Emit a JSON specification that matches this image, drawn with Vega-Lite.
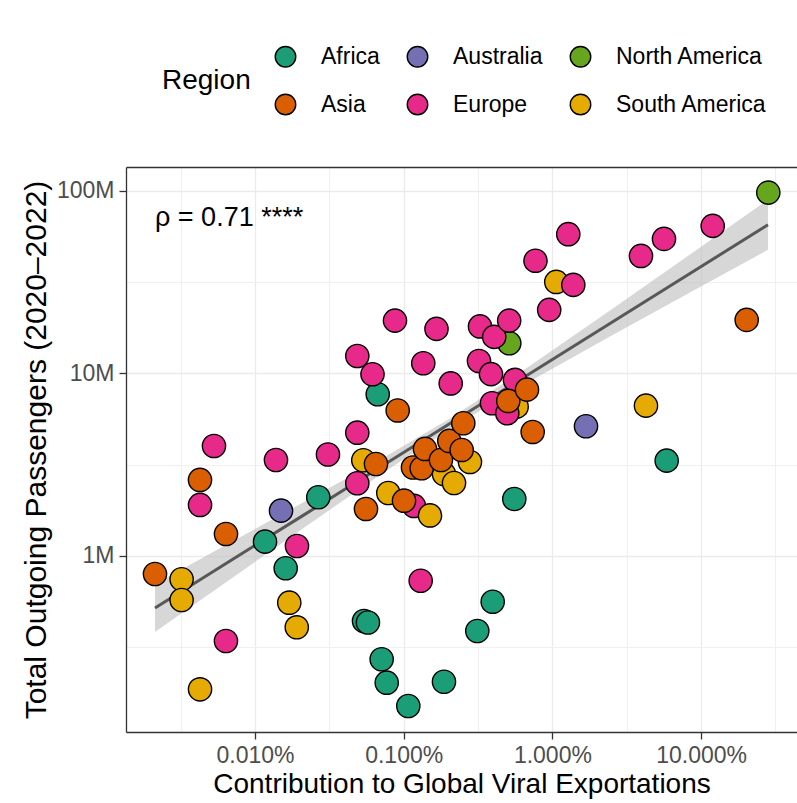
{
  "$schema": "https://vega.github.io/schema/vega-lite/v6.json",
  "width": 671,
  "height": 565,
  "autosize": {"type": "none"},
  "padding": {"left": 126, "top": 167, "right": 0, "bottom": 71},
  "background": "white",
  "config": {
    "view": {"stroke": null},
    "font": "Liberation Sans",
    "legend": {
      "orient": "none",
      "legendX": 36,
      "legendY": -122,
      "direction": "horizontal",
      "columns": 3,
      "gridAlign": "each",
      "padding": 0,
      "titleOrient": "left",
      "titleFontSize": 28,
      "titleFontWeight": "normal",
      "titleColor": "black",
      "titlePadding": 23,
      "titleAnchor": "middle",
      "titleBaseline": "middle",
      "labelFontSize": 23,
      "labelColor": "black",
      "labelOffset": 24,
      "symbolSize": 420,
      "symbolStrokeColor": "black",
      "symbolStrokeWidth": 1.4,
      "symbolType": "circle",
      "symbolOpacity": 1,
      "columnPadding": 24,
      "rowPadding": 21
    }
  },
  "datasets": {
    "countries": [
      {"region": "South America", "share": 3.21e-5, "passengers": 745400},
      {"region": "South America", "share": 3.21e-5, "passengers": 574100},
      {"region": "South America", "share": 4.27e-5, "passengers": 186200},
      {"region": "South America", "share": 1.70e-4, "passengers": 555000},
      {"region": "South America", "share": 1.91e-4, "passengers": 406900},
      {"region": "South America", "share": 5.35e-4, "passengers": 3343000},
      {"region": "South America", "share": 7.88e-4, "passengers": 2213000},
      {"region": "South America", "share": 1.866e-3, "passengers": 2812000},
      {"region": "South America", "share": 2.18e-3, "passengers": 2510000},
      {"region": "South America", "share": 2.79e-3, "passengers": 3272000},
      {"region": "South America", "share": 5.75e-3, "passengers": 6571000},
      {"region": "South America", "share": 1.062e-2, "passengers": 31660000},
      {"region": "South America", "share": 4.26e-2, "passengers": 6655000},
      {"region": "Africa", "share": 6.69e-4, "passengers": 7685000},
      {"region": "Africa", "share": 2.665e-4, "passengers": 2097000},
      {"region": "Africa", "share": 1.168e-4, "passengers": 1198000},
      {"region": "Africa", "share": 1.609e-4, "passengers": 856300},
      {"region": "Africa", "share": 5.41e-4, "passengers": 440600},
      {"region": "Africa", "share": 5.75e-4, "passengers": 432300},
      {"region": "Africa", "share": 7.11e-4, "passengers": 271900},
      {"region": "Africa", "share": 7.69e-4, "passengers": 202400},
      {"region": "Africa", "share": 1.074e-3, "passengers": 150800},
      {"region": "Africa", "share": 1.866e-3, "passengers": 204900},
      {"region": "Africa", "share": 3.126e-3, "passengers": 388500},
      {"region": "Africa", "share": 3.968e-3, "passengers": 561900},
      {"region": "Africa", "share": 5.543e-3, "passengers": 2052000},
      {"region": "Africa", "share": 5.87e-2, "passengers": 3326000},
      {"region": "Australia", "share": 1.496e-4, "passengers": 1771000},
      {"region": "Australia", "share": 1.683e-2, "passengers": 5133000},
      {"region": "North America", "share": 5.13e-3, "passengers": 14610000},
      {"region": "North America", "share": 0.2831, "passengers": 97630000},
      {"region": "Europe", "share": 5.30e-5, "passengers": 4003000},
      {"region": "Europe", "share": 4.27e-5, "passengers": 1903000},
      {"region": "Europe", "share": 6.38e-5, "passengers": 342400},
      {"region": "Europe", "share": 1.384e-4, "passengers": 3355000},
      {"region": "Europe", "share": 1.916e-4, "passengers": 1134000},
      {"region": "Europe", "share": 3.096e-4, "passengers": 3596000},
      {"region": "Europe", "share": 4.875e-4, "passengers": 12450000},
      {"region": "Europe", "share": 6.17e-4, "passengers": 9888000},
      {"region": "Europe", "share": 4.875e-4, "passengers": 4733000},
      {"region": "Europe", "share": 4.875e-4, "passengers": 2502000},
      {"region": "Europe", "share": 8.74e-4, "passengers": 19440000},
      {"region": "Europe", "share": 1.173e-3, "passengers": 1879000},
      {"region": "Europe", "share": 1.301e-3, "passengers": 732100},
      {"region": "Europe", "share": 1.354e-3, "passengers": 11360000},
      {"region": "Europe", "share": 1.662e-3, "passengers": 17510000},
      {"region": "Europe", "share": 2.071e-3, "passengers": 8806000},
      {"region": "Europe", "share": 3.209e-3, "passengers": 11690000},
      {"region": "Europe", "share": 3.26e-3, "passengers": 18060000},
      {"region": "Europe", "share": 3.865e-3, "passengers": 9899000},
      {"region": "Europe", "share": 4.061e-3, "passengers": 15830000},
      {"region": "Europe", "share": 5.122e-3, "passengers": 19440000},
      {"region": "Europe", "share": 5.603e-3, "passengers": 9203000},
      {"region": "Europe", "share": 3.925e-3, "passengers": 6860000},
      {"region": "Europe", "share": 4.973e-3, "passengers": 6046000},
      {"region": "Europe", "share": 7.697e-3, "passengers": 41370000},
      {"region": "Europe", "share": 9.517e-3, "passengers": 22250000},
      {"region": "Europe", "share": 1.279e-2, "passengers": 57790000},
      {"region": "Europe", "share": 1.382e-2, "passengers": 30500000},
      {"region": "Europe", "share": 3.943e-2, "passengers": 43940000},
      {"region": "Europe", "share": 5.63e-2, "passengers": 54450000},
      {"region": "Europe", "share": 0.1197, "passengers": 64150000},
      {"region": "South America", "share": 1.503e-3, "passengers": 1667000},
      {"region": "Asia", "share": 2.126e-5, "passengers": 796800},
      {"region": "Asia", "share": 4.267e-5, "passengers": 2608000},
      {"region": "Asia", "share": 6.383e-5, "passengers": 1320000},
      {"region": "Asia", "share": 9.114e-4, "passengers": 6263000},
      {"region": "Asia", "share": 5.578e-4, "passengers": 1809000},
      {"region": "Asia", "share": 6.512e-4, "passengers": 3190000},
      {"region": "Asia", "share": 1.005e-3, "passengers": 2008000},
      {"region": "Asia", "share": 1.155e-3, "passengers": 3052000},
      {"region": "Asia", "share": 1.321e-3, "passengers": 3021000},
      {"region": "Asia", "share": 1.391e-3, "passengers": 3855000},
      {"region": "Asia", "share": 1.781e-3, "passengers": 3355000},
      {"region": "Asia", "share": 2.026e-3, "passengers": 4264000},
      {"region": "Asia", "share": 2.455e-3, "passengers": 3806000},
      {"region": "Asia", "share": 2.517e-3, "passengers": 5331000},
      {"region": "Asia", "share": 5.051e-3, "passengers": 7062000},
      {"region": "Asia", "share": 6.749e-3, "passengers": 8142000},
      {"region": "Asia", "share": 7.369e-3, "passengers": 4776000},
      {"region": "Asia", "share": 0.2026, "passengers": 19610000}
    ],
    "fit": [
      {"share": 2.126e-5, "fit": 518900, "lo": 383600, "hi": 702500},
      {"share": 6.79e-5, "fit": 937800, "lo": 744400, "hi": 1181000},
      {"share": 2.007e-4, "fit": 1627000, "lo": 1379000, "hi": 1919000},
      {"share": 6.93e-4, "fit": 3057000, "lo": 2773000, "hi": 3369000},
      {"share": 2.048e-3, "fit": 5311000, "lo": 4985000, "hi": 5655000},
      {"share": 7.07e-3, "fit": 9975000, "lo": 9051000, "hi": 10990000},
      {"share": 0.0244, "fit": 18740000, "lo": 15890000, "hi": 22100000},
      {"share": 0.0842, "fit": 35210000, "lo": 27670000, "hi": 44790000},
      {"share": 0.2818, "fit": 65060000, "lo": 47470000, "hi": 89160000}
    ],
    "note": [
      {"label": "ρ = 0.71 ****", "share": 2.126e-5, "passengers": 64100000}
    ]
  },
  "layer": [
    {
      "data": {"name": "fit"},
      "mark": {"type": "area", "color": "#bdbdbd", "opacity": 0.6},
      "encoding": {
        "x": {
          "field": "share", "type": "quantitative",
          "scale": {"type": "log", "domain": [1.357e-5, 0.4416], "nice": false},
          "axis": {
            "orient": "bottom",
            "values": [3.162e-5, 3.162e-4, 3.162e-3, 3.162e-2, 0.3162],
            "grid": true, "gridColor": "#eeeeee", "gridWidth": 0.9,
            "labels": false, "ticks": false, "domain": false, "title": null
          }
        },
        "y": {
          "field": "lo", "type": "quantitative",
          "scale": {"type": "log", "domain": [108700, 134800000], "nice": false},
          "axis": {
            "orient": "left",
            "values": [316228, 3162278, 31622777],
            "grid": true, "gridColor": "#eeeeee", "gridWidth": 0.9,
            "labels": false, "ticks": false, "domain": false, "title": null
          }
        },
        "y2": {"field": "hi"}
      }
    },
    {
      "data": {"name": "fit"},
      "mark": {"type": "line", "color": "#585858", "strokeWidth": 3},
      "encoding": {
        "x": {"field": "share", "type": "quantitative", "axis": null},
        "y": {"field": "fit", "type": "quantitative", "axis": null}
      }
    },
    {
      "data": {"name": "countries"},
      "mark": {
        "type": "point", "shape": "circle", "filled": true, "size": 540,
        "opacity": 1, "stroke": "black", "strokeWidth": 1.4
      },
      "encoding": {
        "x": {
          "field": "share", "type": "quantitative",
          "axis": {
            "orient": "bottom",
            "values": [0.0001, 0.001, 0.01, 0.1],
            "format": ".3%",
            "title": "Contribution to Global Viral Exportations",
            "grid": true, "gridColor": "#ebebeb", "gridWidth": 1.3,
            "domain": true, "domainColor": "#333333", "domainWidth": 1.3,
            "tickColor": "#333333", "tickSize": 7, "tickWidth": 1.3,
            "labelFontSize": 23, "labelColor": "#4d4d4d", "labelPadding": 5,
            "labelFlush": false, "labelOverlap": false,
            "titleFontSize": 28, "titleFontWeight": "normal", "titleColor": "black",
            "titlePadding": 3
          }
        },
        "y": {
          "field": "passengers", "type": "quantitative",
          "axis": {
            "orient": "left",
            "values": [1000000, 10000000, 100000000],
            "labelExpr": "format(datum.value / 1000000, 'd') + 'M'",
            "title": "Total Outgoing Passengers (2020–2022)",
            "grid": true, "gridColor": "#ebebeb", "gridWidth": 1.3,
            "domain": true, "domainColor": "#333333", "domainWidth": 1.3,
            "tickColor": "#333333", "tickSize": 7, "tickWidth": 1.3,
            "labelFontSize": 23, "labelColor": "#4d4d4d", "labelPadding": 5,
            "labelOverlap": false,
            "titleFontSize": 30, "titleFontWeight": "normal", "titleColor": "black",
            "titlePadding": 5
          }
        },
        "color": {
          "field": "region", "type": "nominal",
          "scale": {
            "domain": ["Africa", "Australia", "North America", "Asia", "Europe", "South America"],
            "range": ["#1b9e77", "#7570b3", "#66a61e", "#d95f02", "#e7298a", "#e6ab02"]
          },
          "legend": {"title": "Region"}
        }
      }
    },
    {
      "data": {"name": "note"},
      "mark": {"type": "text", "align": "left", "baseline": "alphabetic", "fontSize": 27, "color": "black"},
      "encoding": {
        "x": {
          "field": "share", "type": "quantitative",
          "axis": {
            "orient": "top", "domain": true, "domainColor": "#333333", "domainWidth": 1.3,
            "labels": false, "ticks": false, "grid": false, "title": null
          }
        },
        "y": {"field": "passengers", "type": "quantitative", "axis": null},
        "text": {"field": "label"}
      }
    }
  ],
  "resolve": {"axis": {"x": "independent", "y": "independent"}}
}
